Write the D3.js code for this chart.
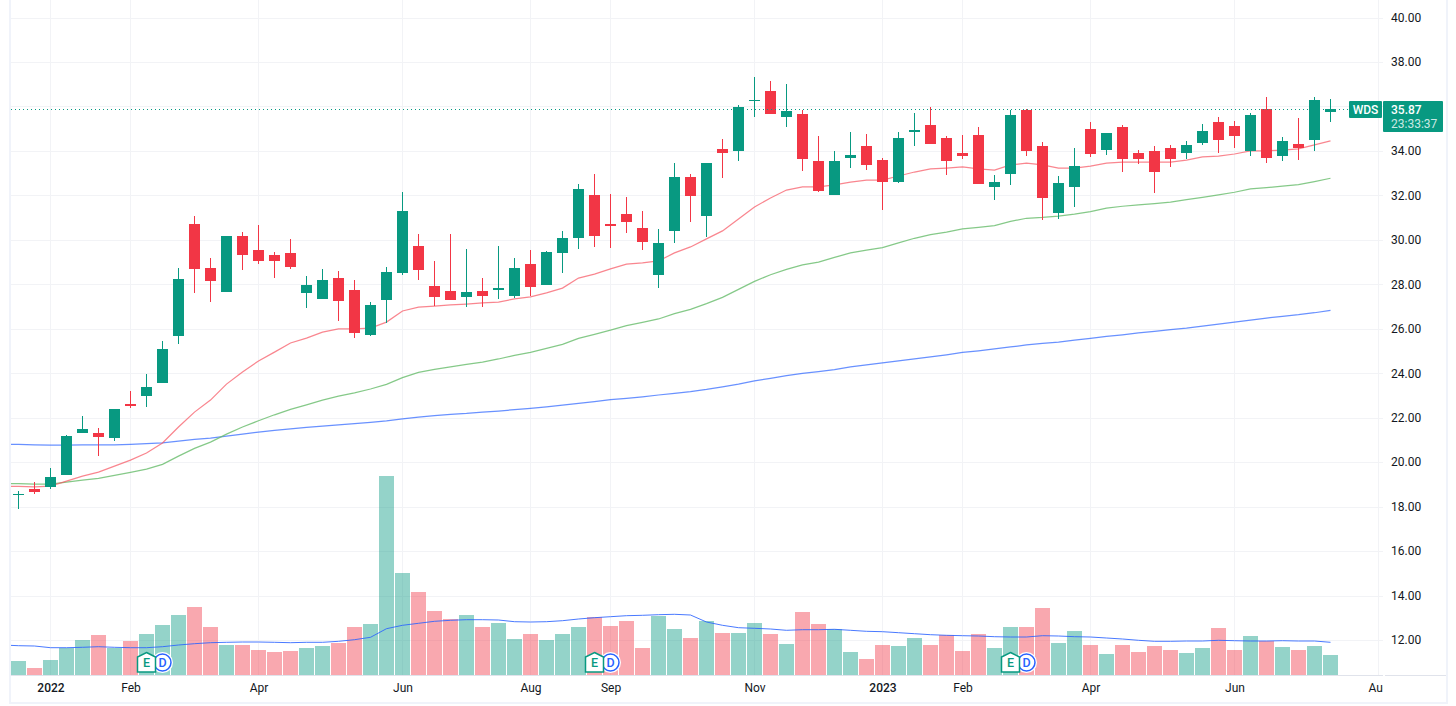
<!DOCTYPE html>
<html lang="en">
<head>
  <meta charset="UTF-8">
  <title>WDS weekly candlestick chart</title>
  <script src="https://d3js.org/d3.v7.min.js"></script>
  <style>
    html, body { margin: 0; padding: 0; background: #fff; }
    svg { display: block; }
    text { font-family: Roboto, "Liberation Sans", sans-serif; }
  </style>
</head>
<body>

<div id="chart"></div>

<script>
  // Weekly prices, one entry per candle
  const opens = [18.52,18.78,18.88,19.42,21.31,21.31,21.08,22.61,22.97,23.56,25.67,30.71,28.73,27.65,30.17,29.54,29.32,29.41,27.61,27.34,28.28,27.74,25.72,27.29,28.51,29.72,27.92,27.70,27.43,27.70,27.74,27.47,28.91,27.97,29.41,30.08,32.02,30.71,31.16,30.53,28.42,30.40,32.83,31.07,34.09,34.00,36.26,36.70,35.53,35.66,33.55,32.02,33.68,34.22,33.59,32.60,34.85,35.17,34.58,33.91,34.72,32.38,32.96,35.84,34.22,31.21,32.38,34.99,34.04,35.08,33.91,34.00,34.13,33.91,34.36,35.30,35.12,34.00,35.89,33.77,34.31,34.49,35.77];
  const highs = [18.70,19.10,19.73,21.22,22.07,21.53,22.39,23.20,23.96,25.45,28.73,31.07,29.18,30.17,30.35,30.67,29.45,30.04,28.37,28.69,28.60,28.19,27.20,28.78,32.15,30.26,29.05,30.26,29.59,28.28,29.72,29.18,29.54,29.50,30.40,32.51,32.96,32.06,31.93,31.30,30.49,33.45,32.96,33.45,34.54,36.07,37.33,37.15,37.01,35.84,34.67,34.00,34.85,34.76,33.68,34.85,35.71,35.98,34.67,34.72,35.08,32.92,35.84,35.89,34.40,32.87,34.13,35.30,34.81,35.17,34.04,34.22,34.27,34.45,35.21,35.53,35.35,35.71,36.43,34.63,35.48,36.43,36.34];
  const lows = [17.89,18.56,18.79,19.42,21.31,20.27,20.95,22.43,22.47,23.56,25.31,27.61,27.20,27.65,28.64,28.91,28.28,28.69,26.93,27.34,26.35,25.58,25.67,26.26,28.42,28.19,27.02,27.29,26.97,26.97,27.34,27.38,27.47,27.97,28.51,29.59,29.68,29.63,30.30,29.54,27.83,29.85,30.80,30.13,32.78,33.55,35.53,35.66,35.08,33.10,32.15,32.02,33.23,33.14,31.34,32.56,34.22,34.31,32.92,33.64,32.51,31.79,32.47,33.77,30.89,30.93,31.48,33.73,33.82,33.05,33.41,32.11,33.28,33.64,34.27,33.91,34.13,33.77,33.45,33.55,33.59,34.00,35.30];
  const closes = [18.56,18.65,19.33,21.17,21.49,21.13,22.39,22.52,23.38,25.09,28.24,28.69,28.15,30.17,29.32,29.05,29.05,28.78,27.97,28.19,27.25,25.81,27.07,28.55,31.30,28.64,27.43,27.29,27.65,27.47,27.83,28.73,27.88,29.45,30.08,32.29,30.17,30.62,30.80,29.90,29.85,32.83,31.97,33.45,33.91,35.98,36.29,35.66,35.80,33.64,32.19,33.55,33.82,33.37,32.60,34.58,34.94,34.31,33.55,33.77,32.51,32.60,35.62,34.00,31.88,32.56,33.32,33.86,34.81,33.64,33.64,33.05,33.64,34.27,34.90,34.49,34.67,35.62,33.68,34.45,34.13,36.29,35.87];

  // Moving averages, first value sits one week before the first candle
  const ma20 = [18.92,18.91,18.89,18.92,19.15,19.37,19.55,19.82,20.09,20.41,20.86,21.58,22.25,22.79,23.51,24.05,24.55,24.95,25.36,25.58,25.85,25.99,25.99,26.03,26.30,26.80,26.97,27.02,27.07,27.11,27.16,27.20,27.34,27.43,27.61,27.83,28.28,28.46,28.69,28.91,28.96,29.05,29.41,29.68,30.04,30.40,30.94,31.48,31.88,32.24,32.38,32.38,32.47,32.60,32.69,32.69,32.87,33.05,33.19,33.23,33.28,33.19,33.14,33.37,33.45,33.37,33.23,33.23,33.32,33.45,33.50,33.50,33.50,33.50,33.59,33.73,33.77,33.86,34.00,34.00,34.04,34.09,34.27,34.45];
  const ma50 = [19.03,19.03,19.01,19.01,19.10,19.19,19.27,19.40,19.54,19.69,19.90,20.27,20.62,20.90,21.26,21.58,21.86,22.13,22.37,22.58,22.79,22.97,23.12,23.29,23.50,23.80,24.04,24.17,24.28,24.40,24.50,24.64,24.80,24.94,25.12,25.30,25.57,25.75,25.94,26.14,26.29,26.44,26.68,26.87,27.13,27.41,27.77,28.13,28.43,28.67,28.87,29.00,29.21,29.41,29.54,29.65,29.86,30.07,30.23,30.35,30.49,30.56,30.64,30.83,30.97,31.01,31.07,31.16,31.27,31.43,31.51,31.57,31.63,31.70,31.81,31.91,32.02,32.14,32.29,32.35,32.41,32.48,32.62,32.77];
  const ma200 = [20.81,20.80,20.78,20.77,20.77,20.78,20.78,20.78,20.80,20.83,20.87,20.95,21.02,21.08,21.17,21.26,21.35,21.43,21.50,21.56,21.62,21.68,21.73,21.79,21.86,21.95,22.03,22.09,22.15,22.19,22.25,22.30,22.36,22.42,22.49,22.57,22.64,22.72,22.81,22.87,22.94,23.02,23.09,23.17,23.27,23.39,23.51,23.66,23.77,23.89,23.99,24.07,24.16,24.29,24.37,24.46,24.55,24.64,24.73,24.83,24.94,25.01,25.09,25.18,25.27,25.34,25.40,25.49,25.57,25.66,25.73,25.81,25.88,25.96,26.03,26.12,26.21,26.30,26.39,26.48,26.56,26.63,26.72,26.83];

  // Volume in millions, same offset for its moving average
  const volumes = [1.4,0.7,1.5,2.7,3.5,4.0,2.7,3.4,4.1,5.0,6.0,6.8,4.8,3.0,3.0,2.5,2.3,2.4,2.7,2.9,3.2,4.8,5.1,19.9,10.2,8.3,6.4,5.6,6.0,4.8,5.2,3.6,4.1,3.5,4.1,4.8,5.8,4.9,5.4,2.7,5.9,4.6,3.7,5.4,4.2,4.2,5.2,4.1,3.1,6.3,5.1,4.6,2.3,1.6,3.0,2.9,3.7,3.0,4.0,2.4,4.1,2.7,4.8,4.8,6.7,3.2,4.4,3.0,2.1,3.0,2.3,2.9,2.5,2.2,2.7,4.7,2.5,3.9,3.4,2.8,2.5,2.9,2.0];
  const volumeMa = [3.0,2.93,2.9,2.73,2.73,2.77,2.83,2.77,2.73,2.73,2.83,3.0,3.13,3.23,3.27,3.3,3.3,3.27,3.23,3.27,3.27,3.37,3.53,3.77,4.63,4.97,5.17,5.37,5.47,5.53,5.53,5.5,5.33,5.3,5.33,5.43,5.6,5.73,5.83,5.93,5.97,6.03,6.07,6.0,5.3,4.97,4.73,4.67,4.6,4.47,4.53,4.53,4.57,4.47,4.37,4.33,4.23,4.13,4.03,3.97,3.93,3.9,3.83,3.8,3.8,3.93,3.9,3.83,3.8,3.7,3.6,3.47,3.37,3.37,3.4,3.4,3.47,3.43,3.4,3.4,3.43,3.4,3.4,3.27];

  // Axis ticks and events (week numbers)
  const priceTicks = [12,14,16,18,20,22,24,26,28,30,32,34,36,38,40];
  const timeTickWeeks = [2,7,15,24,32,37,46,54,59,67,76,85];
  const timeTickLabels = ["2022","Feb","Apr","Jun","Aug","Sep","Nov","2023","Feb","Apr","Jun","Aug"];
  const earningsWeeks = [8,36,62];
  const dividendWeeks = [9,37,63];

  const symbol = "WDS";
  const lastPrice = 35.87;
  const countdown = "23:33:37";

  const width = 1456;
  const height = 706;
  const plotLeft = 11;
  const plotRight = 1383;
  const plotBottom = 675;

  const green = "#089981";
  const red = "#f23645";
  const gridColor = "#f2f3f6";

  const x = d3.scaleLinear().domain([0, 82]).range([18.5, 1330.5]);
  const y = d3.scaleLinear().domain([12, 40]).range([640, 17.5]);
  const yVol = d3.scaleLinear().domain([0, 19.9]).range([plotBottom, 476]);

  const svg = d3.select("#chart").append("svg")
    .attr("width", width)
    .attr("height", height);

  svg.append("defs").append("clipPath").attr("id", "plotClip")
    .append("rect")
    .attr("x", plotLeft).attr("y", 0)
    .attr("width", plotRight - plotLeft).attr("height", 704);

  // Frame
  const frame = "#f0f3fa";
  svg.append("rect").attr("x", 9).attr("y", 0).attr("width", 2).attr("height", 704).attr("fill", frame);
  svg.append("rect").attr("x", 1446).attr("y", 0).attr("width", 2).attr("height", 704).attr("fill", frame);
  svg.append("rect").attr("x", 9).attr("y", 702).attr("width", 1439).attr("height", 2).attr("fill", frame);

  const plot = svg.append("g").attr("clip-path", "url(#plotClip)");

  // Grid
  plot.append("g").selectAll("line").data(priceTicks).join("line")
    .attr("x1", plotLeft).attr("x2", plotRight)
    .attr("y1", d => Math.round(y(d)) + 0.5).attr("y2", d => Math.round(y(d)) + 0.5)
    .attr("stroke", gridColor);
  plot.append("g").selectAll("line").data(timeTickWeeks).join("line")
    .attr("x1", d => x(d)).attr("x2", d => x(d))
    .attr("y1", 0).attr("y2", plotBottom)
    .attr("stroke", gridColor);

  // Volume bars
  plot.append("g").selectAll("rect").data(volumes).join("rect")
    .attr("x", (d, i) => x(i) - 7.5)
    .attr("width", 15)
    .attr("y", d => yVol(d))
    .attr("height", d => plotBottom - yVol(d))
    .attr("fill", (d, i) => closes[i] >= opens[i] ? green : red)
    .attr("fill-opacity", 0.43)
    .attr("shape-rendering", "crispEdges");

  const lineAt = scale => d3.line().x((d, i) => x(i - 1)).y(d => scale(d));

  plot.append("path").datum(volumeMa)
    .attr("d", lineAt(yVol))
    .attr("fill", "none").attr("stroke", "#2962ff").attr("stroke-opacity", 0.85);

  // Moving averages
  [[ma200, "#2962ff", 0.7], [ma50, "#66bb6a", 0.8], [ma20, "#f7525f", 0.7]].forEach(([values, color, alpha]) => {
    plot.append("path").datum(values)
      .attr("d", lineAt(y))
      .attr("fill", "none").attr("stroke", color).attr("stroke-opacity", alpha).attr("stroke-width", 1.25);
  });

  // Candles
  const candles = plot.append("g").selectAll("g").data(d3.range(opens.length)).join("g")
    .attr("fill", i => closes[i] >= opens[i] ? green : red);
  candles.append("rect")
    .attr("x", i => x(i) - 0.5)
    .attr("width", 1)
    .attr("y", i => y(highs[i]))
    .attr("height", i => y(lows[i]) - y(highs[i]))
    .attr("shape-rendering", "crispEdges");
  candles.append("rect")
    .attr("x", i => x(i) - 5.5)
    .attr("width", 11)
    .attr("y", i => y(Math.max(opens[i], closes[i])))
    .attr("height", i => Math.max(1, Math.abs(y(opens[i]) - y(closes[i]))))
    .attr("shape-rendering", "crispEdges");

  // Last price line
  svg.append("line")
    .attr("x1", plotLeft).attr("x2", 1349)
    .attr("y1", Math.round(y(lastPrice)) + 0.5).attr("y2", Math.round(y(lastPrice)) + 0.5)
    .attr("stroke", green).attr("stroke-dasharray", "1 3");

  // Dividend and earnings markers
  const markerY = 662.5;
  const dividends = plot.append("g").selectAll("g").data(dividendWeeks).join("g")
    .attr("transform", d => `translate(${x(d)},${markerY})`);
  dividends.append("circle").attr("r", 10.5).attr("fill", "#fff");
  dividends.append("circle").attr("r", 8.5)
    .attr("fill", "#fff").attr("stroke", "#2962ff").attr("stroke-width", 1.5);
  dividends.append("text").text("D")
    .attr("text-anchor", "middle").attr("y", 4.5)
    .attr("font-size", 12.5).attr("font-weight", 500).attr("fill", "#2962ff");

  const earnings = plot.append("g").selectAll("g").data(earningsWeeks).join("g")
    .attr("transform", d => `translate(${x(d)},${markerY})`);
  earnings.append("path")
    .attr("d", "M0,-10L9,-5.5V9.5H-9V-5.5Z")
    .attr("fill", "#fff").attr("stroke", green).attr("stroke-width", 1.5);
  earnings.append("text").text("E")
    .attr("text-anchor", "middle").attr("y", 4.5)
    .attr("font-size", 12.5).attr("font-weight", 500).attr("fill", green);

  // Bottom border of the plot, broken at the price axis
  svg.append("line").attr("x1", plotLeft).attr("x2", plotRight)
    .attr("y1", 675.5).attr("y2", 675.5).attr("stroke", "#e0e3eb");
  svg.append("line").attr("x1", plotRight + 2).attr("x2", 1446)
    .attr("y1", 675.5).attr("y2", 675.5).attr("stroke", "#e0e3eb");

  // Time axis
  const timeAxis = plot.append("g")
    .attr("transform", `translate(0,${plotBottom})`)
    .call(d3.axisBottom(x)
      .tickValues(timeTickWeeks)
      .tickSize(0)
      .tickPadding(8)
      .tickFormat((d, i) => timeTickLabels[i]));
  timeAxis.select(".domain").remove();
  timeAxis.selectAll("text")
    .attr("font-size", 12)
    .attr("fill", "#131722")
    .attr("font-weight", (d, i) => /^\d/.test(timeTickLabels[i]) ? 500 : 400);

  // Price axis
  const priceAxis = svg.append("g")
    .attr("transform", "translate(1383,0)")
    .call(d3.axisRight(y)
      .tickValues(priceTicks.filter(d => d !== 36))
      .tickSize(0)
      .tickPadding(8)
      .tickFormat(d3.format(".2f")));
  priceAxis.select(".domain").remove();
  priceAxis.selectAll("text").attr("font-size", 12).attr("fill", "#131722");

  // Last price labels
  svg.append("rect").attr("x", 1349).attr("y", 101).attr("width", 33).attr("height", 17).attr("rx", 1).attr("fill", green);
  svg.append("text").text(symbol)
    .attr("x", 1365.5).attr("y", 113.5).attr("text-anchor", "middle")
    .attr("font-size", 12).attr("font-weight", 500).attr("fill", "#fff");
  svg.append("rect").attr("x", 1383).attr("y", 101).attr("width", 60).attr("height", 31).attr("rx", 1).attr("fill", green);
  svg.append("text").text(d3.format(".2f")(lastPrice))
    .attr("x", 1391).attr("y", 113.5)
    .attr("font-size", 12).attr("font-weight", 500).attr("fill", "#fff");
  svg.append("text").text(countdown)
    .attr("x", 1391).attr("y", 127.5)
    .attr("font-size", 12).attr("fill", "#fff").attr("fill-opacity", 0.8);
</script>

</body>
</html>
